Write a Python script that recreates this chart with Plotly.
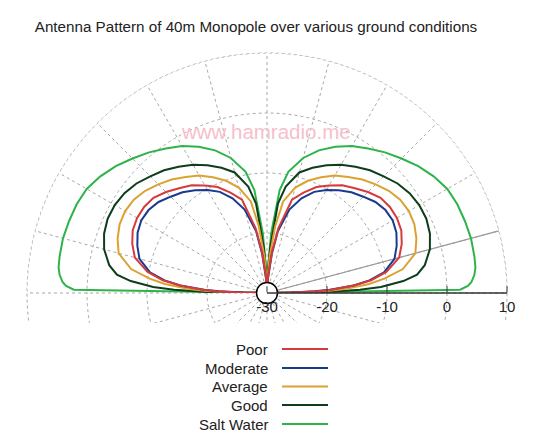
import plotly.graph_objects as go
import numpy as np

# Elevation angles (degrees above horizon) for the right half of the pattern
angles = [0, 1, 2, 3, 5, 7, 10, 15, 20, 25, 30, 35, 40, 45, 50, 55, 60, 65, 70, 75, 80, 83, 86, 88, 90]

# Relative gain (dB), right half (pattern is mirrored on the left)
poor =       [-30, -25.5, -21.5, -19.0, -15.3, -12.5, -9.8, -7.2, -6.1, -5.3, -5.0, -5.0, -5.3, -6.2, -7.2, -8.1, -9.3, -10.5, -12.2, -13.9, -19.0, -23.0, -27.0, -29.0, -30]
moderate =   [-30, -26.0, -22.0, -19.5, -15.5, -12.8, -10.2, -8.0, -7.0, -6.2, -5.8, -5.9, -6.4, -7.3, -8.1, -9.1, -10.2, -11.4, -13.2, -15.6, -19.5, -23.5, -27.5, -29.0, -30]
average =    [-30, -24.0, -20.0, -17.0, -12.9, -10.3, -7.0, -4.4, -3.5, -2.9, -2.7, -2.9, -3.5, -4.4, -5.3, -6.4, -7.4, -8.7, -10.1, -11.8, -14.5, -18.8, -24.0, -28.0, -30]
good =       [-30, -20.0, -14.5, -11.0, -7.2, -4.8, -3.3, -1.9, -1.1, -0.7, -0.7, -1.0, -1.6, -2.5, -3.3, -4.3, -5.3, -6.5, -7.8, -9.2, -12.0, -15.0, -22.4, -27.0, -30]
salt_water = [-30, 2.2, 3.5, 4.1, 4.7, 5.0, 5.1, 5.2, 5.1, 5.0, 4.7, 3.9, 2.9, 1.7, 0.6, -0.6, -1.7, -3.1, -4.7, -6.7, -9.5, -12.7, -20.0, -26.0, -30]

series_names = ["Poor", "Moderate", "Average", "Good", "Salt Water"]
series_values = [poor, moderate, average, good, salt_water]
series_colors = ["#d63a3a", "#1a3a8f", "#dba232", "#0d3d1a", "#2db34a"]

radial_ticks = [-30, -20, -10, 0, 10]
radial_ticktext = ["-30", "-20", "-10", "0", "10"]
r_min, r_max = -30, 10

FONT = "Liberation Sans, Arial, sans-serif"
GRID = "#a8a8a8"

# The page body adds an 8px offset; positions below are reference pixels minus that offset
OFF = 8
W, H = 540, 442
cx, cy, R = 267 - OFF, 293 - OFF, 240
cut_y = 323 - OFF  # where the grid below the horizon is cut off

fig = go.Figure()

# Outer dotted circle
arc = list(np.arange(0, 181, 1))
fig.add_trace(go.Scatterpolar(r=[r_max] * len(arc), theta=arc, mode="lines",
                              line=dict(color=GRID, width=1, dash="dot"),
                              showlegend=False, hoverinfo="skip"))

# Highlighted 15-degree line
fig.add_trace(go.Scatterpolar(r=[r_min, r_max], theta=[15, 15], mode="lines",
                              line=dict(color="#9a9a9a", width=1.2),
                              showlegend=False, hoverinfo="skip"))

# Patterns (right half + mirrored left half)
for name, vals, col in zip(series_names[::-1], series_values[::-1], series_colors[::-1]):
    theta = angles + [180 - a for a in angles[::-1]]
    r = vals + vals[::-1]
    fig.add_trace(go.Scatterpolar(r=r, theta=theta, mode="lines", name=name,
                                  line=dict(color=col, width=2), showlegend=False))

# Centre hole marker
fig.add_trace(go.Scatterpolar(r=[r_min], theta=[0], mode="markers",
                              marker=dict(size=21, color="white", line=dict(color="black", width=1.5)),
                              cliponaxis=False, showlegend=False, hoverinfo="skip"))

fig.update_layout(
    width=W, height=H,
    margin=dict(l=0, r=0, t=0, b=0),
    paper_bgcolor="white",
    font=dict(family=FONT, color="#222"),
    title=dict(text="Antenna Pattern of 40m Monopole over various ground conditions",
               x=(256 - OFF) / W, xanchor="center", y=1 - (27 - OFF) / H, yanchor="middle",
               font=dict(size=15.2, color="#222", family=FONT)),
    polar=dict(
        domain=dict(x=[(cx - R) / W, (cx + R) / W], y=[(H - cy) / H, (H - cy + R) / H]),
        sector=[0, 180],
        hole=0,
        bgcolor="white",
        radialaxis=dict(range=[r_min, r_max], tickmode="array", tickvals=radial_ticks,
                        ticktext=radial_ticktext, angle=0, side="clockwise",
                        ticks="inside", ticklen=6, tickcolor="#333",
                        showline=True, linecolor="#333", linewidth=1.5,
                        showgrid=True, gridcolor=GRID, griddash="dot", gridwidth=1,
                        tickfont=dict(size=15, color="#222", family=FONT)),
        angularaxis=dict(tickmode="linear", tick0=0, dtick=15, showticklabels=False,
                         ticks="", direction="counterclockwise", rotation=0,
                         showgrid=True, gridcolor=GRID, griddash="dot", gridwidth=1,
                         showline=False),
    ),
)

# Faint continuation of the grid just below the horizon (behind the white polar background)
px = lambda v: v / W
py = lambda v: 1 - v / H
grid_line = dict(color=GRID, width=1, dash="dot")
for a in range(195, 360, 15):
    t = np.deg2rad(a)
    fig.add_shape(type="line", xref="paper", yref="paper", layer="below",
                  x0=px(cx), y0=py(cy), x1=px(cx + R * np.cos(t)), y1=py(cy - R * np.sin(t)),
                  line=grid_line)
for rv in radial_ticks[1:]:
    rp = R * (rv - r_min) / (r_max - r_min)
    fig.add_shape(type="circle", xref="paper", yref="paper", layer="below",
                  x0=px(cx - rp), x1=px(cx + rp), y0=py(cy + rp), y1=py(cy - rp),
                  line=grid_line)
fig.add_shape(type="rect", xref="paper", yref="paper", layer="below",
              x0=0, x1=1, y0=0, y1=py(cut_y), fillcolor="white", line=dict(width=0))

# Watermark
fig.add_annotation(text="www.hamradio.me", x=(266 - OFF) / W, y=1 - (118 - OFF) / H,
                   xref="paper", yref="paper", showarrow=False,
                   font=dict(size=20.5, color="#f5bfcb", family=FONT))

# Legend: labels on the left, line keys on the right
rows = [349, 368, 386.5, 405, 424]
for name, col, yy in zip(series_names, series_colors, rows):
    fig.add_annotation(text=name, x=(270 - OFF) / W, y=1 - (yy - OFF) / H, xref="paper", yref="paper",
                       xanchor="right", yanchor="middle", showarrow=False,
                       font=dict(size=15, color="#222", family=FONT))
    fig.add_shape(type="line", xref="paper", yref="paper", x0=(282 - OFF) / W, x1=(328 - OFF) / W,
                  y0=1 - (yy - OFF) / H, y1=1 - (yy - OFF) / H, line=dict(color=col, width=2))

fig.write_html("out.html")
